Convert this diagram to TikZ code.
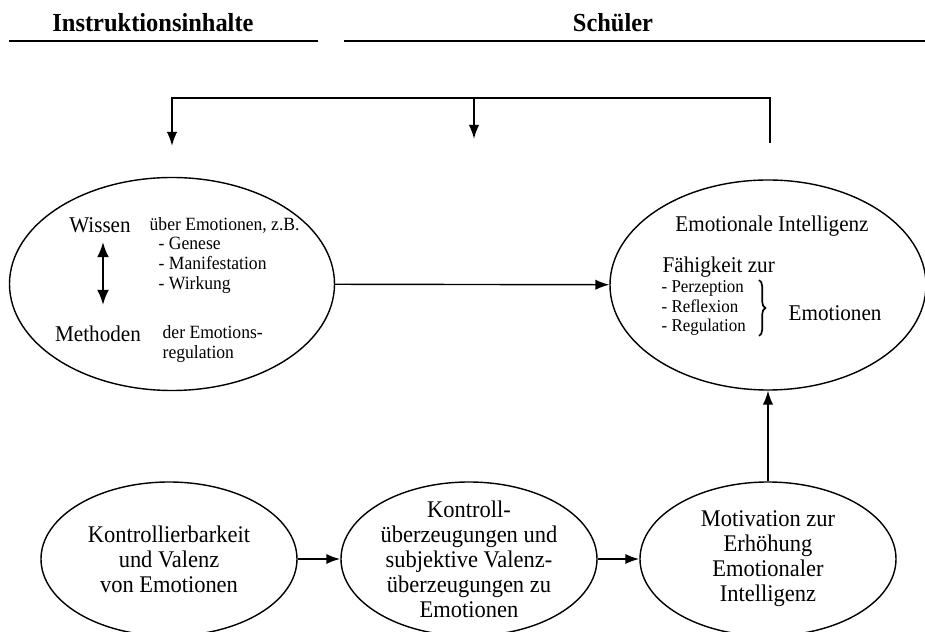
\documentclass[tikz,border=0pt]{standalone}
\usepackage{fontspec}
\setmainfont{Liberation Serif}[FakeStretch=0.94]
\usetikzlibrary{arrows.meta,shapes.geometric,decorations.pathreplacing}

\begin{document}
\begin{tikzpicture}[x=0.25mm, y=-0.25mm, line width=1pt,
  oval/.style = {draw, ellipse, inner sep=0pt},
  big/.style = {inner sep=0pt, font=\fontsize{16}{17}\selectfont},
  small/.style = {inner sep=0pt, align=left, font=\fontsize{13.3}{14.2}\selectfont},
  list/.style = {inner sep=0pt, align=left, font=\fontsize{12.8}{13.9}\selectfont},
  main/.style = {inner sep=0pt, align=center, font=\fontsize{17}{17.8}\selectfont},
  head/.style = {inner sep=0pt, font=\fontsize{18.5}{20}\selectfont\bfseries},
  arr/.style = {-{Latex[length=3.5mm,width=2.6mm]}}]
  \useasboundingbox (0,0) rectangle (925,632);
  % headers
  \node[head] (instr) at (153,23) {Instruktionsinhalte};
  \node[head] (schueler) at (613,23) {Schüler};
  \draw[line width=1.4pt] (9,41) -- (318,41);
  \draw[line width=1.1pt] (344,41) -- (925,41);
  % upper ellipses
  \node[oval, minimum width=81.25mm, minimum height=53.25mm] (wiss) at (172,284) {};
  \node[oval, minimum width=79mm, minimum height=52.5mm] (emoint) at (768,285) {};
  % bottom ellipses
  \node[oval, minimum width=64mm, minimum height=38.5mm] (kontr) at (169,559) {};
  \node[oval, minimum width=64mm, minimum height=38.5mm] (ueberz) at (469,559) {};
  \node[oval, minimum width=64mm, minimum height=38.5mm] (motiv) at (768,559) {};
  \node[main] at (kontr) {Kontrollierbarkeit\\und Valenz\\von Emotionen};
  \node[main] at (ueberz) {Kontroll-\\überzeugungen und\\subjektive Valenz-\\überzeugungen zu\\Emotionen};
  \node[main] at (motiv) {Motivation zur\\Erhöhung\\Emotionaler\\Intelligenz};
  % inside left ellipse
  \node[big] (wissen) at (100,225) {Wissen};
  \node[big] (methoden) at (98,334) {Methoden};
  \node[small, anchor=west] (ueber) at (149,225) {über Emotionen, z.B.};
  \node[small, anchor=west] (aspekte) at (158,265) {- Genese\\- Manifestation\\- Wirkung};
  \node[small, anchor=west] (regul) at (162,344) {der Emotions-\\regulation};
  \coordinate (wm1) at (103,242);
  \coordinate (wm2) at (103,305);
  \draw[line width=1.6pt, {Latex[length=3.8mm,width=3mm]}-{Latex[length=3.8mm,width=3mm]}] (wm1) -- (wm2);
  % inside right ellipse
  \node[big] (eititle) at (772,226) {Emotionale Intelligenz};
  \node[big, anchor=west] (faehig) at (662,267) {Fähigkeit zur};
  \node[list, anchor=west] (faehlist) at (661,308) {- Perzeption\\- Reflexion\\- Regulation};
  \node[big, anchor=west] (emo) at (788,313) {Emotionen};
  \coordinate (br1) at (759,280);
  \coordinate (br2) at (759,336);
  \draw[line width=1.2pt, decorate, decoration={brace, amplitude=1.6mm}] (br1) -- (br2);
  % feedback line
  \coordinate (fbR) at (770,143);
  \coordinate (topR) at (770,98);
  \coordinate (topL) at (172,98);
  \coordinate (topM) at (474,98);
  \coordinate (fbL) at (172,146);
  \coordinate (fbM) at (474,139);
  \draw[arr, line width=1.3pt] (fbR) -- (topR) -- (topL) -- (fbL);
  \draw[arr, line width=1.3pt] (topM) -- (fbM);
  % connectors
  \draw[arr] (wiss) -- (emoint);
  \draw[arr, line width=1.5pt] (kontr) -- (ueberz);
  \draw[arr, line width=1.5pt] (ueberz) -- (motiv);
  \draw[arr] (motiv) -- (emoint);
\end{tikzpicture}
\end{document}
